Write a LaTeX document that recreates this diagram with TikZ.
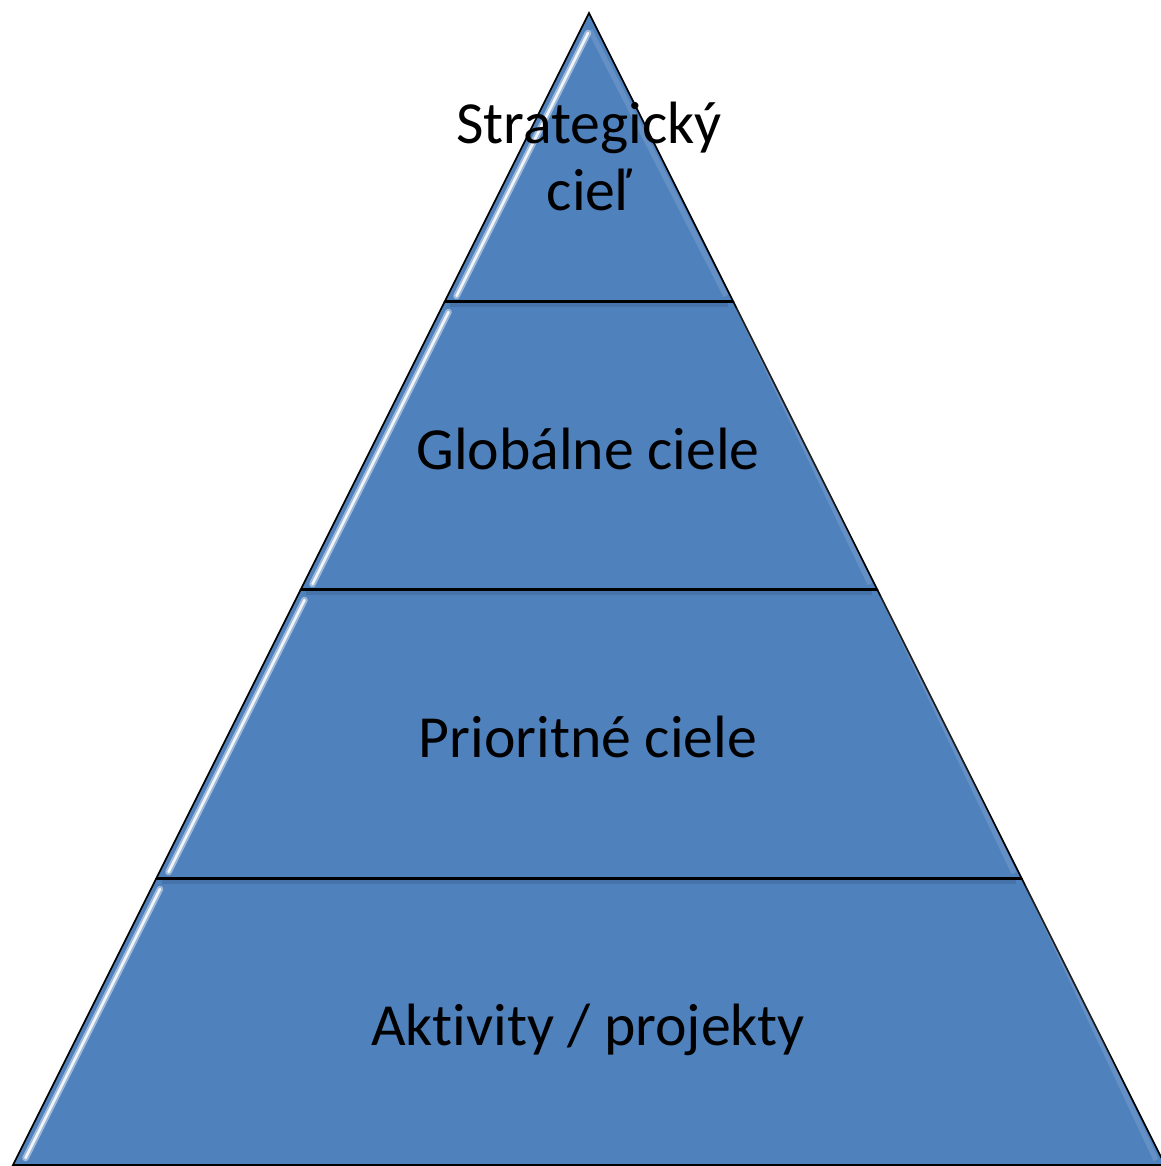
\documentclass[tikz,border=0pt]{standalone}
\usepackage{fontspec}
\setmainfont{Carlito}[Ligatures=NoCommon]
\definecolor{pyrblue}{HTML}{4F81BD}
\begin{document}
\begin{tikzpicture}[x=0.02cm,y=-0.02cm,
  layer/.style={fill=pyrblue, draw=black, line width=0.9pt, line join=miter},
  topshade/.style={draw=pyrblue!70!black, line width=2.2pt, opacity=0.35},
  rightshine/.style={draw=white, line width=3pt, opacity=0.12},
  glow/.style={draw=white!55!pyrblue, line width=3.8pt, line cap=round, opacity=0.8},
  shine/.style={draw=white!92!pyrblue, line width=1.5pt, line cap=round},
  lbl/.style={font=\fontsize{34}{38}\selectfont, text=black, anchor=base, inner sep=0pt}
]
\useasboundingbox (0,0) rectangle (1160,1166);
% named corner points
\coordinate (apex) at (589,13);
\coordinate (a1l) at (445,301); \coordinate (a1r) at (733,301);
\coordinate (b2l) at (444.5,302); \coordinate (b2r) at (733.5,302);
\coordinate (a2l) at (301,589); \coordinate (a2r) at (877,589);
\coordinate (b3l) at (300.5,590); \coordinate (b3r) at (877.5,590);
\coordinate (a3l) at (156.5,878); \coordinate (a3r) at (1021.5,878);
\coordinate (b4l) at (156,879); \coordinate (b4r) at (1022,879);
\coordinate (a4l) at (13,1165); \coordinate (a4r) at (1165,1165);
% layers
\path[layer] (apex) -- (a1r) -- (a1l) -- cycle;
\path[layer] (b2l) -- (b2r) -- (a2r) -- (a2l) -- cycle;
\path[layer] (b3l) -- (b3r) -- (a3r) -- (a3l) -- cycle;
\path[layer] (b4l) -- (b4r) -- (a4r) -- (a4l) -- cycle;
% inner shading under top edges
\draw[topshade] (450,305) -- (728,305);
\draw[topshade] (306,593) -- (872,593);
\draw[topshade] (162,882) -- (1016,882);
% light inner band along right edges
\draw[rightshine] (590,30) -- (726,296);
\draw[rightshine] (738,307) -- (870,584);
\draw[rightshine] (882,595) -- (1014,873);
\draw[rightshine] (1027,884) -- (1156,1160);
% bevel highlights along left edges
\draw[glow] (588,33) -- (456.5,296);
\draw[shine] (588,33) -- (456.5,296);
\draw[glow] (448.5,312) -- (312.5,584);
\draw[shine] (448.5,312) -- (312.5,584);
\draw[glow] (304.5,600) -- (168.5,872);
\draw[shine] (304.5,600) -- (168.5,872);
\draw[glow] (160,889) -- (25.5,1158);
\draw[shine] (160,889) -- (25.5,1158);
% labels
\node[lbl] (t1) at (589,143) {Strategický};
\node[lbl] (t2) at (589,210) {cieľ};
\node[lbl] (glob) at (588,469) {Globálne ciele};
\node[lbl] (prio) at (588,757) {Prioritné ciele};
\node[lbl] (akt) at (588,1045) {Aktivity / projekty};
\end{tikzpicture}
\end{document}
